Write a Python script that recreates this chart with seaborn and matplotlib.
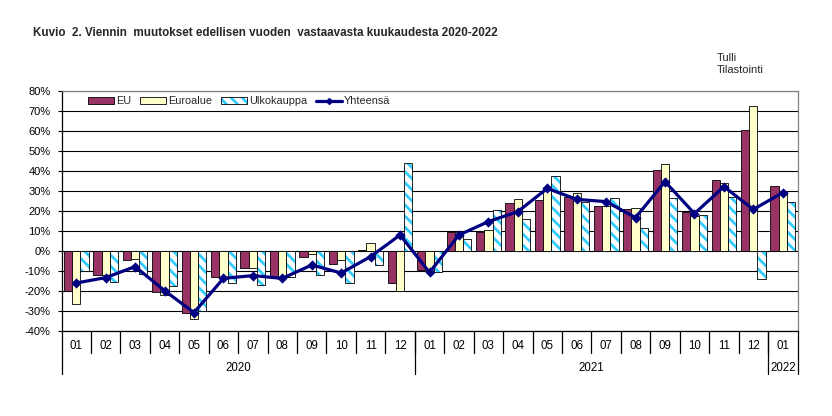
import numpy as np
import pandas as pd
import matplotlib
matplotlib.use("Agg")
import matplotlib.pyplot as plt
from matplotlib import font_manager as fm
from matplotlib.colors import to_rgba
from matplotlib.patches import Patch
from matplotlib.lines import Line2D
import seaborn as sns

# ---------------- data ----------------
months = ["01", "02", "03", "04", "05", "06", "07", "08", "09", "10", "11", "12",
          "01", "02", "03", "04", "05", "06", "07", "08", "09", "10", "11", "12",
          "01"]
years = ["2020"] * 12 + ["2021"] * 12 + ["2022"]
year_labels = ["2020", "2021", "2022"]

eu = [-20, -12, -4.5, -20.7, -31, -12.8, -8.3, -13.3, -3, -6.7, 0.3, -16,
      -9.5, 9.7, 9.7, 23.8, 25.5, 26.8, 22.7, 20.8, 40.3, 19.5, 35.3, 60.3, 32.3]
euroalue = [-26.7, -12, -4, -22, -34, -13.3, -8.3, -13.3, -1.5, -4.5, 4, -20,
            -10, 9.7, 10.3, 25.8, 31.3, 28.8, 22.7, 21.3, 43.3, 17.3, 33.8, 72.3, 30.2]
ulkokauppa = [-10, -15.5, -11.7, -17.7, -30, -16, -17, -13, -12, -16, -7, 43.8,
              -10.5, 5.8, 20.3, 15.8, 37.5, 24.3, 26.3, 11.7, 26.3, 17.8, 27.2, -14, 24.3]
yhteensa = [-16, -13.3, -7.8, -19.8, -30.8, -13.7, -12.3, -13.7, -7, -11, -2.8, 8,
            -10.7, 8, 14.7, 19.7, 31.3, 25.8, 24.7, 16.7, 34.7, 18.7, 32.2, 20.8, 29.2]

series_names = ["EU", "Euroalue", "Ulkokauppa"]
line_name = "Yhteensä"
yticks = list(range(-40, 81, 10))

title_text = "Kuvio  2. Viennin  muutokset edellisen vuoden  vastaavasta kuukaudesta 2020-2022"
source_text = "Tulli\nTilastointi"

# ---------------- styling ----------------
C_EU = "#993366"
C_EURO = "#FFFFCC"
C_HATCH = "#33CCFF"
C_LINE = "#000080"

sns.set_theme(style="white")
names = {f.name for f in fm.fontManager.ttflist}
narrow = "Liberation Sans Narrow" if "Liberation Sans Narrow" in names else "Liberation Sans"
plt.rcParams["font.family"] = ["Liberation Sans", "DejaVu Sans"]
plt.rcParams["hatch.linewidth"] = 2.0

keys = [f"{y}-{m}" for y, m in zip(years, months)]
n = len(keys)
df = pd.DataFrame({
    "key": keys * 3,
    "series": sum([[s] * n for s in series_names], []),
    "value": eu + euroalue + ulkokauppa,
})
df_tot = pd.DataFrame({"key": keys, "value": yhteensa})

fig = plt.figure(figsize=(8.32, 4.16), dpi=100)
fig.patch.set_facecolor("white")
ax = fig.add_axes([61.5 / 832, 85 / 416, 736 / 832, 240 / 416])
ax.set_facecolor("white")

sns.barplot(data=df, x="key", y="value", hue="series", order=keys,
            hue_order=series_names,
            palette={"EU": C_EU, "Euroalue": C_EURO, "Ulkokauppa": "white"},
            saturation=1, width=0.84, edgecolor="black", linewidth=0.6,
            legend=False, ax=ax, zorder=2)


def set_hatch_color(p, c):
    if hasattr(p, "set_hatchcolor"):
        p.set_hatchcolor(c)
    else:
        p._hatch_color = to_rgba(c)


for p in ax.containers[2]:
    p.set_hatch("\\\\\\")
    set_hatch_color(p, C_HATCH)

sns.pointplot(data=df_tot, x="key", y="value", order=keys, color=C_LINE,
              markers="D", markersize=3.5, linewidth=2.3, errorbar=None,
              ax=ax, zorder=5)

ax.set_xlim(-0.5, n - 0.5)
ax.set_ylim(-40, 80)
ax.set_yticks(yticks)
ax.set_yticklabels([f"{v}%" for v in yticks], fontsize=8)
ax.set_xticks([])
ax.set_xlabel("")
ax.set_ylabel("")
ax.set_axisbelow(True)
ax.yaxis.grid(True, color="black", linewidth=0.8, zorder=0)
ax.tick_params(axis="y", left=True, length=3, width=0.8, color="black",
               pad=5, labelcolor="black")

for side in ["top", "right"]:
    ax.spines[side].set_color("#808080")
    ax.spines[side].set_linewidth(0.9)
for side in ["left", "bottom"]:
    ax.spines[side].set_color("black")
    ax.spines[side].set_linewidth(0.9)

# category axis labels
for i, m in enumerate(months):
    ax.text(i, -0.0625, m, transform=ax.get_xaxis_transform(), ha="center",
            va="center", fontsize=8.3, color="black")
for i in range(n - 1):
    ax.axvline(i + 0.5, ymin=-0.092, ymax=0, color="black", lw=0.9, clip_on=False)
bounds = [-0.5]
for i in range(1, n):
    if years[i] != years[i - 1]:
        bounds.append(i - 0.5)
bounds.append(n - 0.5)
for b in bounds:
    ax.axvline(b, ymin=-0.18, ymax=0, color="black", lw=0.9, clip_on=False)
for j, yl in enumerate(year_labels):
    ax.text((bounds[j] + bounds[j + 1]) / 2, -0.154, yl,
            transform=ax.get_xaxis_transform(), ha="center", va="center",
            fontsize=8.3, color="black")

# legend
h_eu = Patch(facecolor=C_EU, edgecolor="black", linewidth=0.6)
h_euro = Patch(facecolor=C_EURO, edgecolor="black", linewidth=0.6)
h_ulko = Patch(facecolor="white", edgecolor="black", linewidth=0.6, hatch="\\\\\\")
set_hatch_color(h_ulko, C_HATCH)
h_line = Line2D([], [], color=C_LINE, lw=2.3, marker="D", markersize=3)
leg = ax.legend([h_eu, h_euro, h_ulko, h_line], series_names + [line_name],
                loc="upper left", bbox_to_anchor=(0.036, 0.978), ncol=4,
                frameon=False, fontsize=7.8, handlelength=2.4, handleheight=0.55,
                handletextpad=0.2, columnspacing=0.8, borderpad=0,
                borderaxespad=0, numpoints=1)
for h in leg.legend_handles:
    if isinstance(h, Patch) and h.get_hatch():
        set_hatch_color(h, C_HATCH)

# titles
title = fig.text(33 / 832, 1 - 33 / 416, title_text, ha="left", va="center",
                 fontsize=9, fontweight="bold", family=[narrow, "DejaVu Sans"])
src = fig.text(717 / 832, 1 - 64 / 416, source_text, ha="left", va="center",
               fontsize=8, family=[narrow, "DejaVu Sans"], linespacing=1.25)

fig.canvas.draw()
r = fig.canvas.get_renderer()
bb = title.get_window_extent(r)
title.set_fontsize(title.get_fontsize() * 464 / bb.width)

fig.savefig("out.png", dpi=100, facecolor="white")
